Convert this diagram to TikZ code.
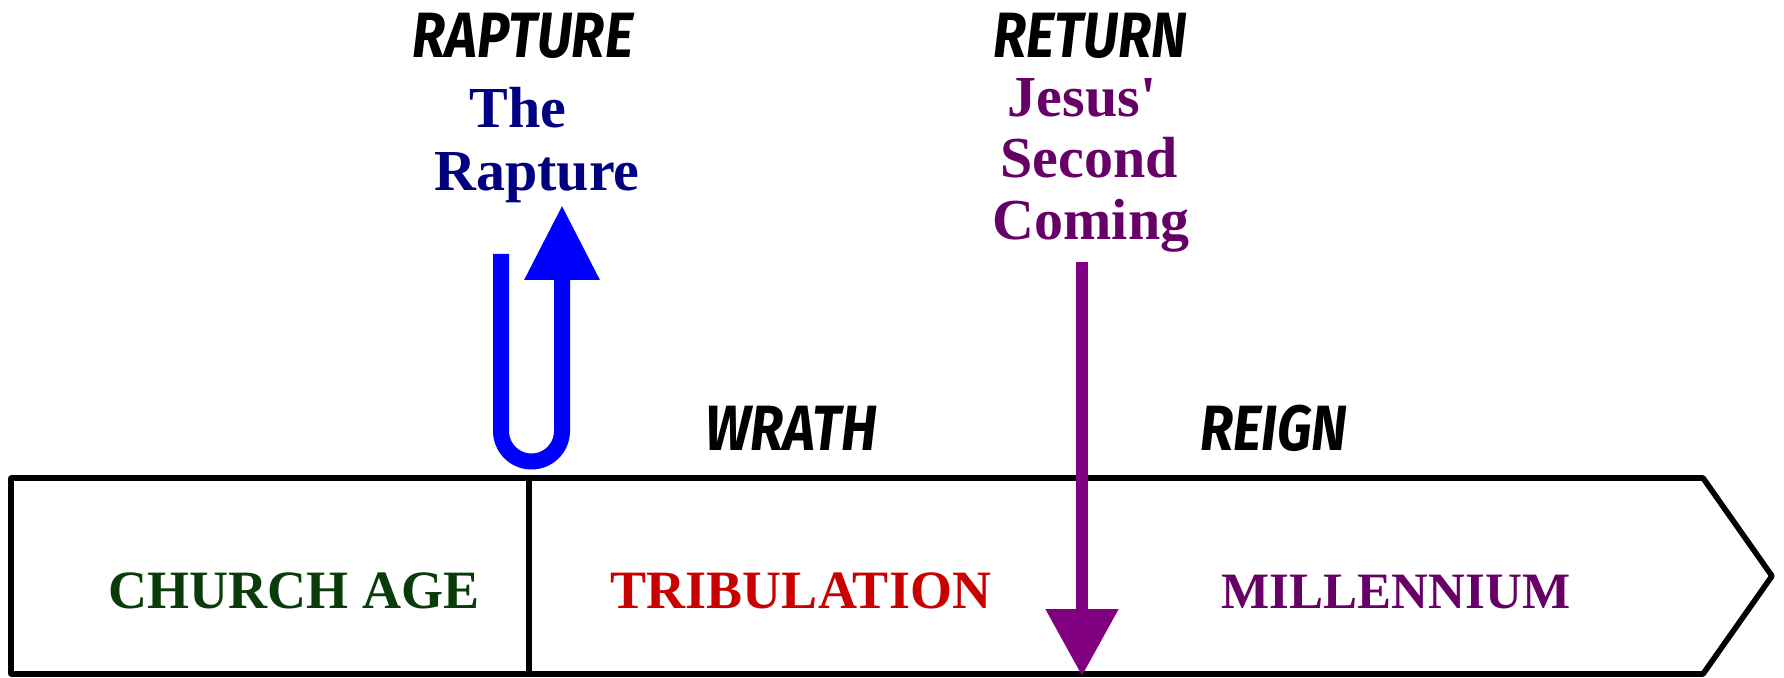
\documentclass[tikz,border=0pt]{standalone}
\usepackage{fontspec}
\setmainfont{Liberation Serif}
\newfontfamily\hand{Fira Sans}[FakeStretch=0.85]
\usetikzlibrary{arrows.meta}
\definecolor{navy}{RGB}{0,0,128}
\definecolor{rblue}{RGB}{0,0,255}
\definecolor{cgreen}{RGB}{10,60,10}
\definecolor{tred}{RGB}{200,0,0}
\definecolor{mpurple}{RGB}{102,0,102}
\definecolor{apurple}{RGB}{128,0,128}
\tikzset{
  handlbl/.style={font=\hand\bfseries\itshape\fontsize{32pt}{32pt}\selectfont, text=black, inner sep=0pt},
  eventlbl/.style={font=\bfseries\fontsize{29pt}{31.5pt}\selectfont, inner sep=0pt, anchor=base},
  periodlbl/.style={font=\bfseries\fontsize{27pt}{30pt}\selectfont, inner sep=0pt, anchor=base},
  outline/.style={draw=black, line width=2.8pt, line join=round},
}
\begin{document}
\begin{tikzpicture}[x=0.5pt,y=-0.5pt]
\useasboundingbox (0,0) rectangle (1784,678);
% timeline box
\draw[outline] (11,478) -- (1703,478) -- (1772,576) -- (1703,674) -- (11,674) -- cycle;
\draw[outline] (529,478) -- (529,674);
% period labels
\node[periodlbl, text=cgreen] (church) at (294,609) {CHURCH AGE};
\node[periodlbl, text=tred] (trib) at (801,609) {TRIBULATION};
\node[periodlbl, text=mpurple, font=\bfseries\fontsize{25.5pt}{30pt}\selectfont] (mill) at (1396,609) {MILLENNIUM};
% handwritten labels
\node[handlbl] (raptlbl) at (523,36) {RAPTURE};
\node[handlbl] (retlbl) at (1090,36) {RETURN};
\node[handlbl] (wrath) at (791,428) {WRATH};
\node[handlbl] (reign) at (1274,428) {REIGN};
% event labels
\node[eventlbl, text=navy] (the) at (518,128) {The};
\node[eventlbl, text=navy] (rapt) at (537,191) {Rapture};
\node[eventlbl, text=mpurple] (jesus) at (1082,117) {Jesus\textquotesingle};
\node[eventlbl, text=mpurple] (second) at (1089,178) {Second};
\node[eventlbl, text=mpurple] (coming) at (1091,240) {Coming};
% rapture arrow
\coordinate (ustart) at (501,254);
\coordinate (utip) at (562,205);
\draw[rblue, line width=8pt, -{Triangle[length=37.5pt,width=35.5pt]}]
  (ustart) -- (501,431) arc[start angle=180, end angle=0, radius=30.5] -- (utip);
% return arrow
\coordinate (rstart) at (1082,262);
\coordinate (rtip) at (1082,676);
\draw[apurple, line width=6pt, -{Triangle[length=33.5pt,width=35pt]}] (rstart) -- (rtip);
\end{tikzpicture}
\end{document}
